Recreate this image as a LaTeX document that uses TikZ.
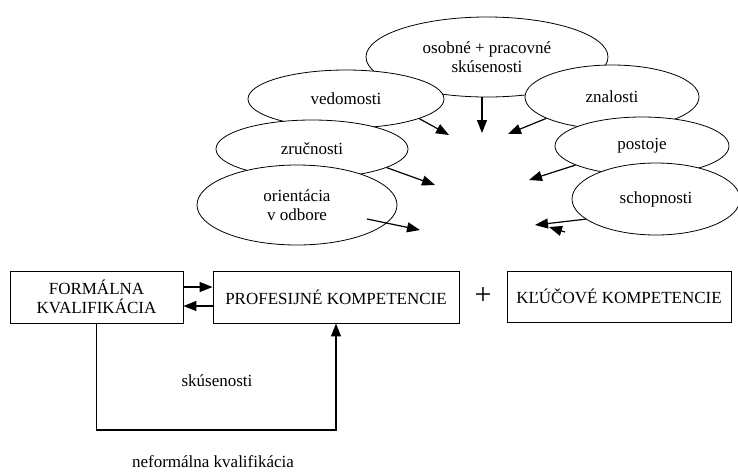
\documentclass[tikz,border=0pt]{standalone}
\usepackage{fontspec}
\setmainfont{Liberation Serif}
\usetikzlibrary{shapes.geometric,arrows.meta,calc}

\begin{document}
\begin{tikzpicture}[x=1pt,y=-1pt,
  font=\fontsize{17}{19.5}\selectfont,
  bubble/.style={ellipse,draw,fill=white,line width=0.8pt,inner sep=0pt,align=center},
  kbox/.style={rectangle,draw,line width=0.9pt,inner sep=0pt,align=center},
  arr/.style={line width=1.2pt,-{Triangle[length=13pt,width=10pt]}},
  plain/.style={inner sep=0pt}]
\useasboundingbox (0,0) rectangle (738,475);

% upper group: sources of competence, back to front
\node[bubble,minimum width=242pt,minimum height=80pt] (oso) at (487,57) {osobné + pracovné\\skúsenosti};
\node[bubble,minimum width=196pt,minimum height=58pt] (ved) at (346,99) {vedomosti};
\node[bubble,minimum width=174pt,minimum height=64pt] (zna) at (612,97) {znalosti};
\node[bubble,minimum width=192pt,minimum height=58pt] (zru) at (312,149) {zručnosti};
\node[bubble,minimum width=174pt,minimum height=58pt] (pos) at (642,146) {postoje};
\node[bubble,minimum width=200pt,minimum height=80pt] (ori) at (297,205) {orientácia\\v odbore};
\node[bubble,minimum width=168pt,minimum height=72pt] (sch) at (656,199) {schopnosti};

% arrow ends
\coordinate (tO) at (482,133);
\coordinate (tV) at (449,135);
\coordinate (tN) at (508,134);
\coordinate (tZ) at (435,185);
\coordinate (tP) at (529,180);
\coordinate (sOr) at (367,219);
\coordinate (tOr) at (420,230);
\coordinate (tS) at (535,225);
\coordinate (tS2) at (549,227);
\coordinate (sS2) at (565,232);

\draw[arr] (tO |- oso.south) -- (tO);
\draw[arr] (ved.-15) -- (tV);
\draw[arr] (zna.198) -- (tN);
\draw[arr] (zru.-14) -- (tZ);
\draw[arr] (pos.196) -- (tP);
\draw[arr] (sOr) -- (tOr);
\draw[arr] (sch.196) -- (tS);
\draw[arr] (sS2) -- (tS2);

% lower group: qualification and competences
\node[kbox,minimum width=173pt,minimum height=52pt] (form) at (96.5,297) {FORMÁLNA\\KVALIFIKÁCIA};
\node[kbox,minimum width=246pt,minimum height=52pt] (prof) at (336,297) {PROFESIJNÉ KOMPETENCIE};
\node[plain,font=\fontsize{30}{30}\selectfont] (plus) at (483,296) {+};
\node[kbox,minimum width=224pt,minimum height=51pt] (kluc) at (619,296.5) {KĽÚČOVÉ KOMPETENCIE};

\coordinate (r1) at (0,287);
\coordinate (r2) at (0,306);
\draw[arr] (form.east |- r1) -- (prof.west |- r1);
\draw[arr] (prof.west |- r2) -- (form.east |- r2);

% informal path through experience
\coordinate (low) at (220,430);
\draw[arr] (form.south) |- (low) -| (prof.south);

\node[plain] (exp) at (217,381) {skúsenosti};
\node[plain] (nef) at (213,462) {neformálna kvalifikácia};
\end{tikzpicture}
\end{document}
